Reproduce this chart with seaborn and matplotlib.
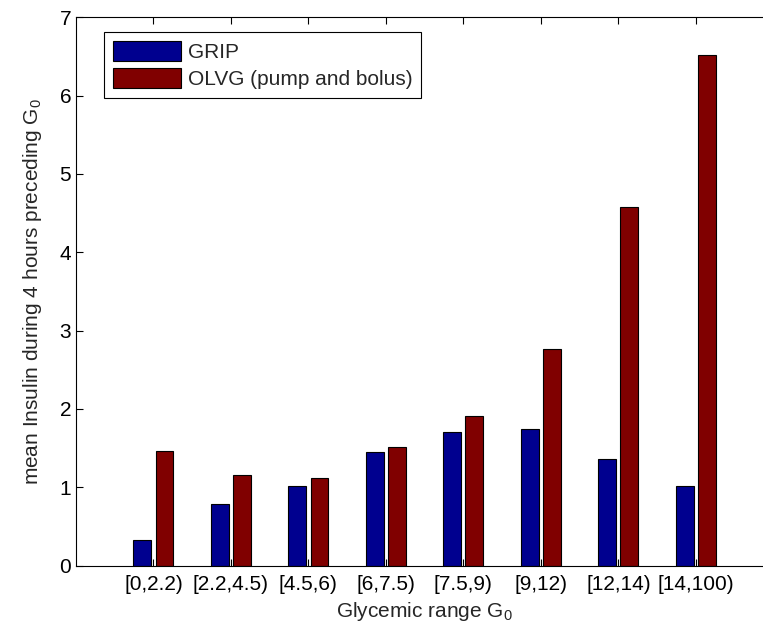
import pandas as pd
import matplotlib.pyplot as plt
import seaborn as sns

# ── data ─────────────────────────────────────────────────────────────────────
ranges = ["[0,2.2)", "[2.2,4.5)", "[4.5,6)", "[6,7.5)", "[7.5,9)",
          "[9,12)", "[12,14)", "[14,100)"]
grip = [0.325, 0.79, 1.02, 1.455, 1.70, 1.745, 1.36, 1.02]
olvg = [1.465, 1.16, 1.115, 1.515, 1.915, 2.765, 4.58, 6.52]
series = ["GRIP", "OLVG (pump and bolus)"]

df = pd.DataFrame({
    "range": ranges * 2,
    "insulin": grip + olvg,
    "group": [series[0]] * len(ranges) + [series[1]] * len(ranges),
})

# ── style ────────────────────────────────────────────────────────────────────
sns.set_style("ticks")
plt.rcParams["font.family"] = ["Liberation Sans", "DejaVu Sans"]
plt.rcParams["mathtext.fontset"] = "custom"
plt.rcParams["mathtext.rm"] = "Liberation Sans"
plt.rcParams["mathtext.it"] = "Liberation Sans"

BLUE = "#00008f"
RED = "#800000"
FS = 15

fig = plt.figure(figsize=(7.63, 6.29), dpi=100)
ax = fig.add_axes([0.0996, 0.1007, 1.0135 - 0.0996, 0.9725 - 0.1007])

sns.barplot(data=df, x="range", y="insulin", hue="group", order=ranges,
            hue_order=series, palette=[BLUE, RED], saturation=1,
            width=0.57, gap=0.19, edgecolor="black", linewidth=0.8, ax=ax)

ax.set_xlim(-1, 8)
ax.set_ylim(0, 7)
ax.set_yticks(range(0, 8))
ax.tick_params(direction="in", top=True, right=True, length=5,
               labelsize=FS, colors="black", width=0.8)
ax.tick_params(axis="x", pad=7)
for sp in ax.spines.values():
    sp.set_visible(True)
    sp.set_color("black")
    sp.set_linewidth(0.8)

ax.set_xlabel("Glycemic range G$_0$", fontsize=FS, labelpad=4)
ax.set_ylabel("mean Insulin during 4 hours preceding G$_0$", fontsize=FS,
              labelpad=11)

leg = ax.legend(loc="upper left", bbox_to_anchor=(0.04, 0.973),
                borderaxespad=0, fontsize=FS, frameon=True, fancybox=False,
                framealpha=1, edgecolor="black", handlelength=3.3,
                handleheight=1.1, handletextpad=0.3, labelspacing=0.3,
                borderpad=0.42)
leg.get_frame().set_linewidth(0.8)

fig.savefig("out.png", dpi=100)
